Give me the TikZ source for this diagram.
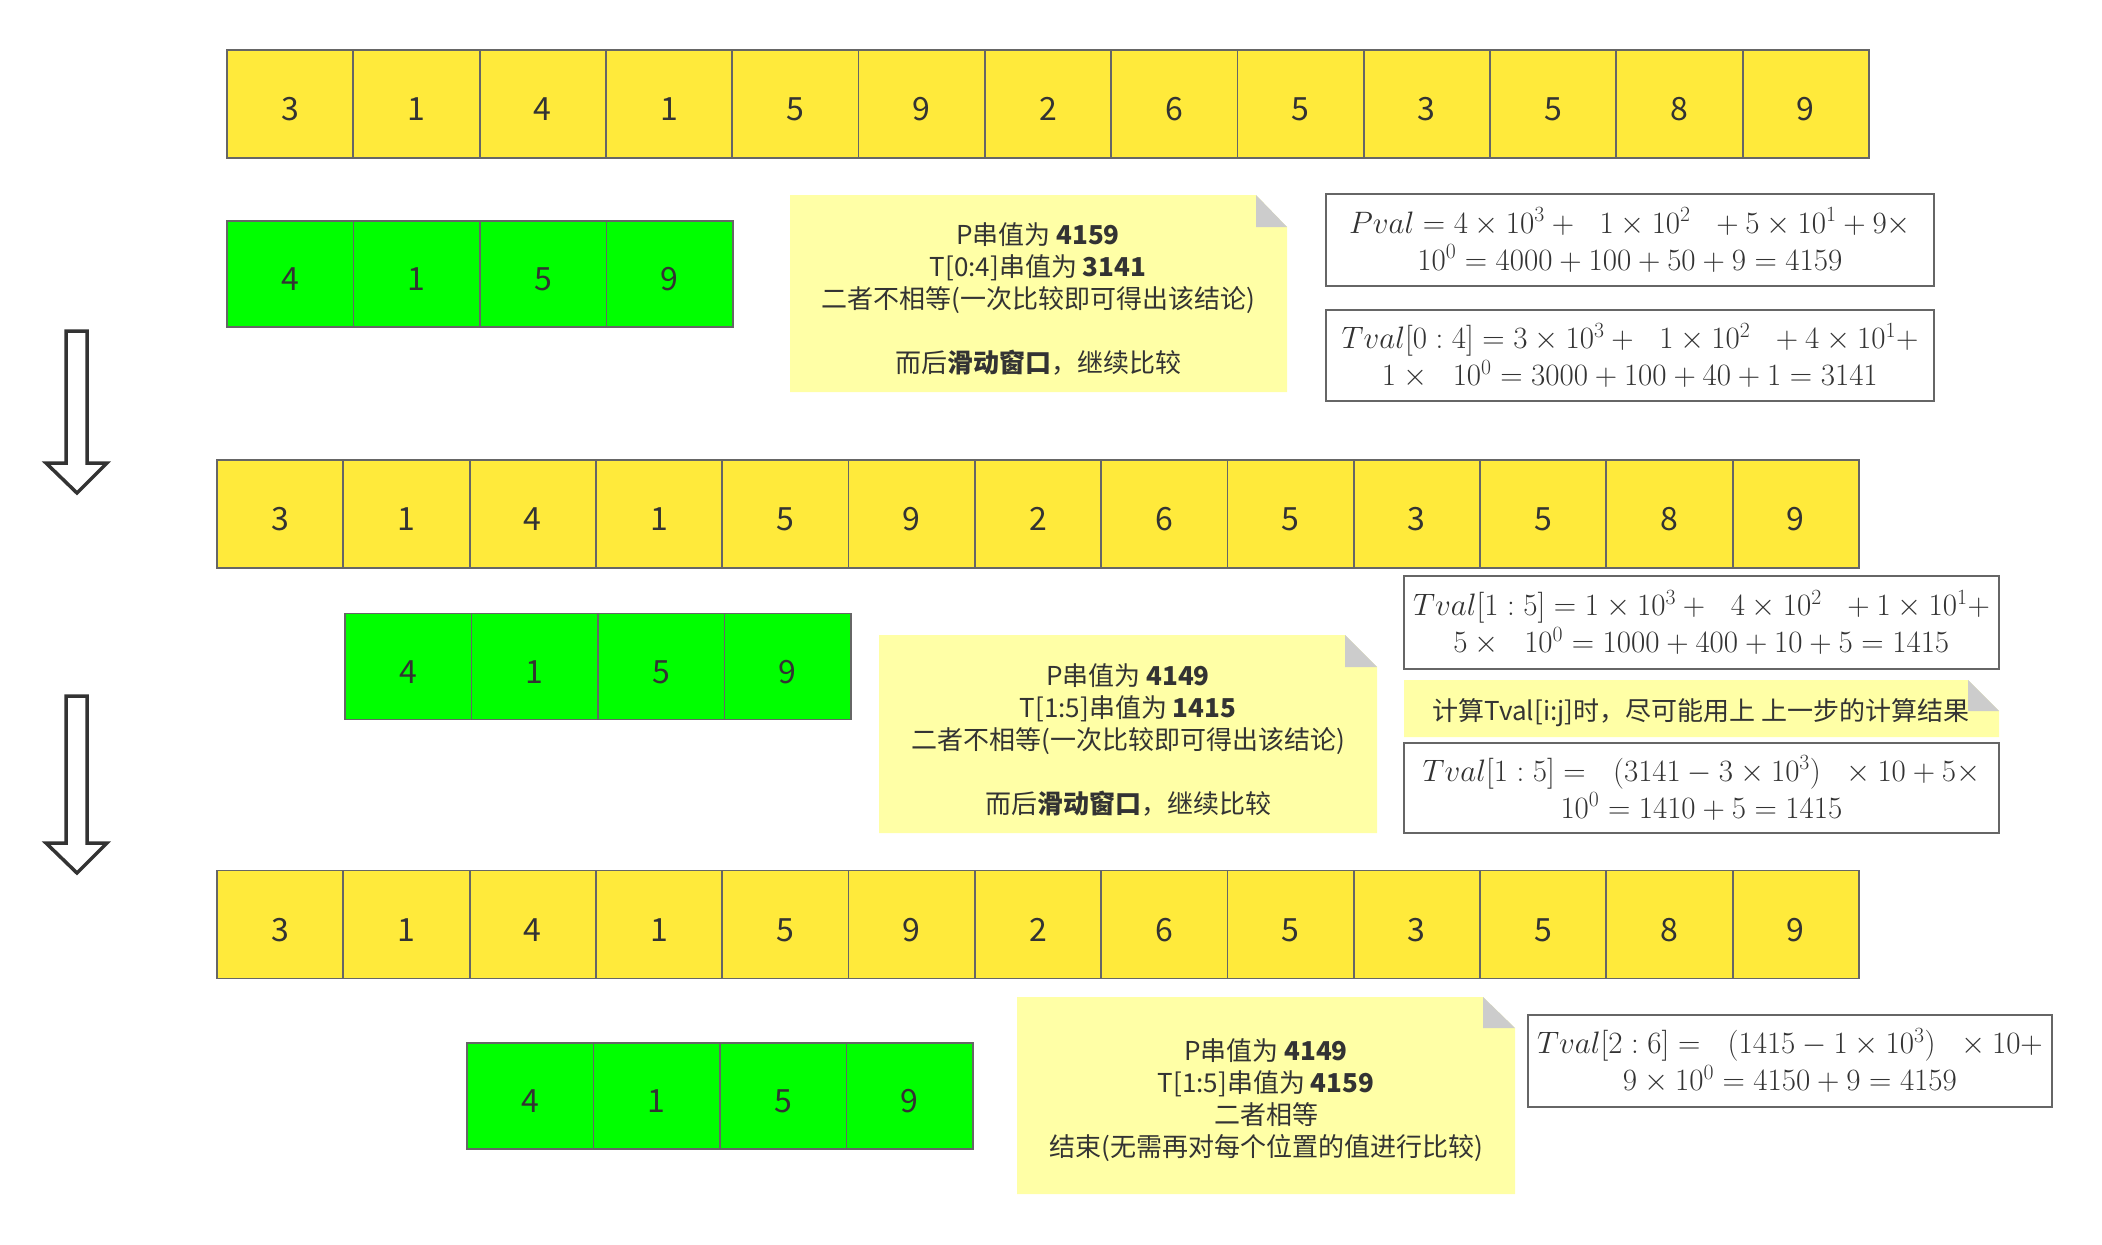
\RequirePackage{fix-cm}
\documentclass[tikz,border=0pt]{standalone}
\usepackage{fontspec}
\newfontfamily\cjk{Noto Sans CJK SC}
\definecolor{cellY}{HTML}{FFEA3B}
\definecolor{cellG}{HTML}{00FF00}
\definecolor{noteY}{HTML}{FFFFA6}
\definecolor{foldG}{HTML}{CCCCCC}
\definecolor{bord}{HTML}{666666}
\definecolor{txt}{HTML}{333333}
\tikzset{
  cell/.style={draw=bord, line width=1.8pt, minimum width=126.3pt, minimum height=108pt, inner sep=0pt, font=\cjk\fontsize{32}{38}\selectfont, text=txt, text height=33pt, text depth=0pt},
  ycell/.style={cell, fill=cellY},
  gcell/.style={cell, fill=cellG, minimum width=126.5pt, minimum height=106pt},
  notetext/.style={align=center, font=\cjk\fontsize{26}{32}\selectfont, text=txt, inner sep=0pt},
  fbox/.style={draw=bord, line width=1.5pt, fill=white, align=center, inner sep=0pt, font=\fontsize{31}{37}\selectfont, text=txt},
  blockarrow/.style={draw=txt, line width=3.5pt, fill=white, line join=miter},
}
\newcommand\mynote[6]{%
  \fill[noteY] (#1,#2) -- (#5,#2) -- (#3,#6) -- (#3,#4) -- (#1,#4) -- cycle;
  \fill[foldG] (#5,#2) -- (#5,#6) -- (#3,#6) -- cycle;}
\begin{document}
\begin{tikzpicture}[x=1pt,y=-1pt]
\useasboundingbox (0,0) rectangle (2102,1245);
% rows of T
\foreach \v [count=\i] in {3,1,4,1,5,9,2,6,5,3,5,8,9}
  \node[ycell] (a\i) at ({227+126.3*(\i-0.5)},104) {\v};
\foreach \v [count=\i] in {3,1,4,1,5,9,2,6,5,3,5,8,9}
  \node[ycell] (b\i) at ({217+126.3*(\i-0.5)},514) {\v};
\foreach \v [count=\i] in {3,1,4,1,5,9,2,6,5,3,5,8,9}
  \node[ycell] (c\i) at ({217+126.3*(\i-0.5)},924.5) {\v};
% pattern rows
\foreach \v [count=\i] in {4,1,5,9}
  \node[gcell] (p\i) at ({227+126.5*(\i-0.5)},274) {\v};
\foreach \v [count=\i] in {4,1,5,9}
  \node[gcell] (q\i) at ({345+126.5*(\i-0.5)},666.5) {\v};
\foreach \v [count=\i] in {4,1,5,9}
  \node[gcell] (r\i) at ({467+126.5*(\i-0.5)},1096) {\v};
% arrows
\draw[blockarrow] (66,331) -- (87,331) -- (87,463) -- (107,463) -- (77,493) -- (46,463) -- (66,463) -- cycle;
\draw[blockarrow] (66,696) -- (87,696) -- (87,843) -- (107,843) -- (77,873) -- (46,843) -- (66,843) -- cycle;
% notes
\mynote{790}{195}{1287}{392}{1256}{227}
\node[notetext] (n1) at (1038,299) {P串值为 \textbf{4159}\\T[0:4]串值为 \textbf{3141}\\二者不相等(一次比较即可得出该结论)\\[32pt]而后\textbf{滑动窗口}，继续比较};
\mynote{879}{635}{1377}{833}{1345}{667}
\node[notetext] (n2) at (1128,740) {P串值为 \textbf{4149}\\T[1:5]串值为 \textbf{1415}\\二者不相等(一次比较即可得出该结论)\\[32pt]而后\textbf{滑动窗口}，继续比较};
\mynote{1017}{997}{1515}{1194}{1483}{1028}
\node[notetext] (n3) at (1266,1100) {P串值为 \textbf{4149}\\T[1:5]串值为 \textbf{4159}\\二者相等\\结束(无需再对每个位置的值进行比较)};
\mynote{1404}{680}{1999}{737}{1968}{711}
\node[notetext] (n4) at (1701,713) {计算Tval[i:j]时，尽可能用上 上一步的计算结果};
% formula boxes
\node[fbox, minimum width=608pt, minimum height=92pt] (f1) at (1630,240)
  {$Pval=4\times10^3+\ \ 1\times10^2\ \ +5\times10^1+9\times$\\$10^0=4000+100+50+9=4159$};
\node[fbox, minimum width=608pt, minimum height=91pt] (f2) at (1630,355.5)
  {$Tval[0:4]=3\times10^3+\ \ 1\times10^2\ \ +4\times10^1+$\\$1\times\ \ 10^0=3000+100+40+1=3141$};
\node[fbox, minimum width=595pt, minimum height=93pt] (f3) at (1701.5,622.5)
  {$Tval[1:5]=1\times10^3+\ \ 4\times10^2\ \ +1\times10^1+$\\$5\times\ \ 10^0=1000+400+10+5=1415$};
\node[fbox, minimum width=595pt, minimum height=90pt] (f4) at (1701.5,788)
  {$Tval[1:5]=\ \ (3141-3\times10^3)\ \ \times10+5\times$\\$10^0=1410+5=1415$};
\node[fbox, minimum width=524pt, minimum height=92pt] (f5) at (1790,1061)
  {$Tval[2:6]=\ \ (1415-1\times10^3)\ \ \times10+$\\$9\times10^0=4150+9=4159$};
\end{tikzpicture}
\end{document}
